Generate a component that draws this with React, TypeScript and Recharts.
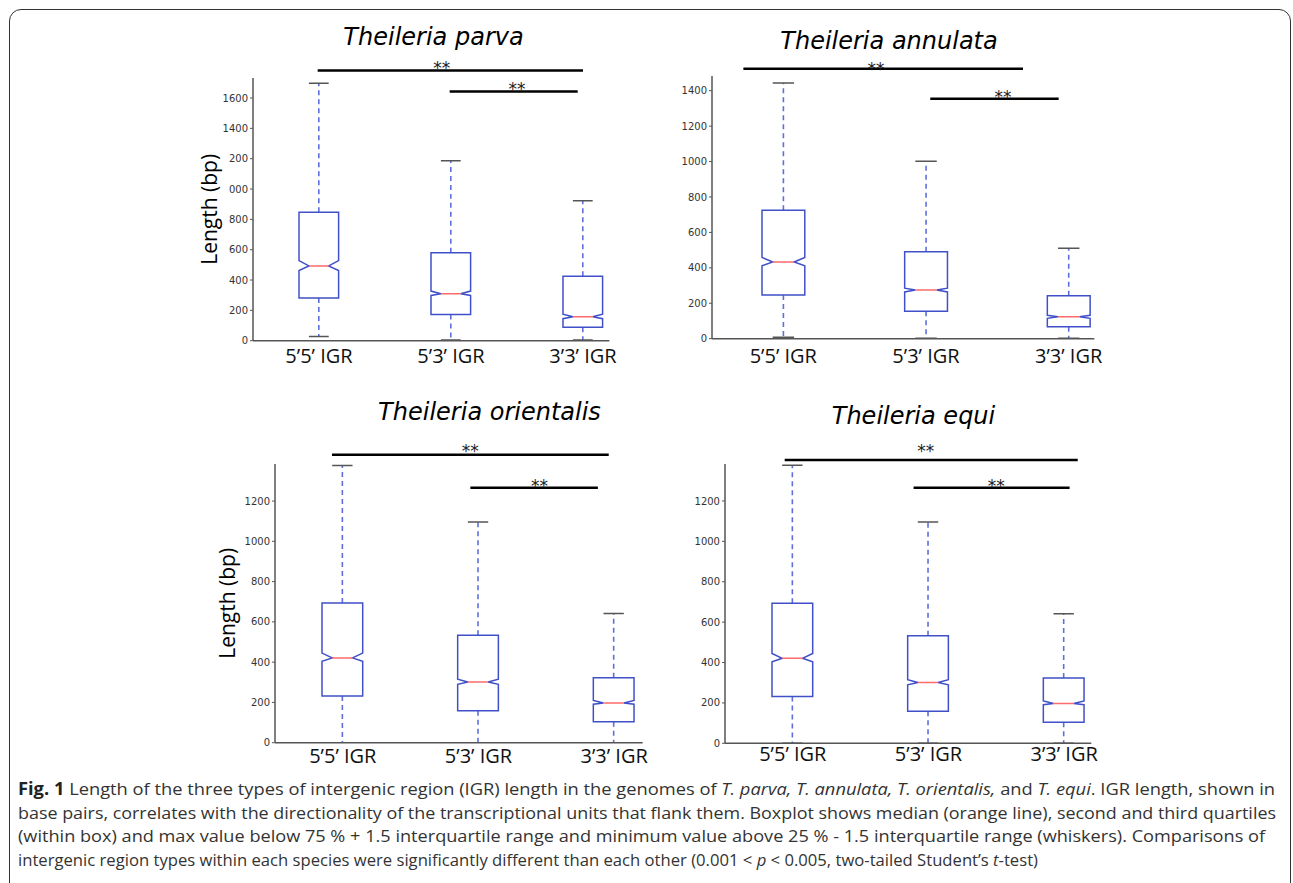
import React from 'react';
import { ComposedChart, Bar, XAxis, YAxis, ReferenceLine, ReferenceDot } from 'recharts';

const categories = ['5’5’ IGR', '5’3’ IGR', '3’3’ IGR'];
const positions = [1, 2, 3];

// Theileria parva
const parvaLow = [28, 5, 5];
const parvaQ1 = [281, 173, 88];
const parvaNotchLo = [463, 298, 145];
const parvaMedian = [493, 309, 158];
const parvaNotchHi = [528, 327, 175];
const parvaQ3 = [847, 579, 425];
const parvaHigh = [1698, 1186, 923];
const parvaTicks = [0, 200, 400, 600, 800, 1000, 1200, 1400, 1600];
const parvaTickLabels = ['0', '200', '400', '600', '800', '000', '200', '1400', '1600'];

// Theileria annulata
const annulataLow = [8, 2, 2];
const annulataQ1 = [247, 155, 68];
const annulataNotchLo = [412, 264, 115];
const annulataMedian = [433, 275, 124];
const annulataNotchHi = [459, 285, 132];
const annulataQ3 = [725, 491, 243];
const annulataHigh = [1444, 1002, 510];
const annulataTicks = [0, 200, 400, 600, 800, 1000, 1200, 1400];

// Theileria orientalis
const orientalisLow = [0, 0, 0];
const orientalisQ1 = [232, 159, 104];
const orientalisNotchLo = [404, 290, 191];
const orientalisMedian = [421, 301, 197];
const orientalisNotchHi = [445, 315, 210];
const orientalisQ3 = [694, 533, 323];
const orientalisHigh = [1377, 1096, 642];

// Theileria equi
const equiLow = [0, 0, 0];
const equiQ1 = [232, 159, 104];
const equiNotchLo = [404, 290, 191];
const equiMedian = [421, 301, 197];
const equiNotchHi = [445, 315, 210];
const equiQ3 = [694, 533, 323];
const equiHigh = [1377, 1096, 642];

const lowerTicks = [0, 200, 400, 600, 800, 1000, 1200];

// significance bars: x in category units (1..3), y in bp
const parvaSig = [
  { x1: 0.99, x2: 3.0, y: 1782, sx: 1.93, sy: 1824 },
  { x1: 1.99, x2: 2.96, y: 1643, sx: 2.5, sy: 1686 },
];
const annulataSig = [
  { x1: 0.72, x2: 2.68, y: 1524, sx: 1.65, sy: 1546 },
  { x1: 2.03, x2: 2.93, y: 1355, sx: 2.54, sy: 1389 },
];
const orientalisSig = [
  { x1: 0.92, x2: 2.96, y: 1430, sx: 1.94, sy: 1467 },
  { x1: 1.94, x2: 2.88, y: 1266, sx: 2.45, sy: 1294 },
];
const equiSig = [
  { x1: 0.94, x2: 3.1, y: 1403, sx: 1.98, sy: 1466 },
  { x1: 1.89, x2: 3.04, y: 1266, sx: 2.5, sy: 1294 },
];

const buildRows = (low: number[], q1: number[], nlo: number[], med: number[], nhi: number[], q3: number[], high: number[]) =>
  categories.map((name, i) => ({
    name,
    pos: positions[i],
    low: low[i],
    q1: q1[i],
    notchLo: nlo[i],
    median: med[i],
    notchHi: nhi[i],
    q3: q3[i],
    high: high[i],
  }));

const BOX = '#3f50c8';
const WHISKER = '#5d6fdc';
const CAP = '#555';
const MEDIAN = '#ff6b6b';

function NotchedBox(props: any) {
  const { x, y, width, height, payload } = props;
  if (!payload) return null;
  const { low, q1, notchLo, median, notchHi, q3, high } = payload;
  const top = Math.min(y, y + height);
  const k = Math.abs(height) / (q3 - q1);
  const py = (v: number) => top + (q3 - v) * k;
  const l = x;
  const r = x + width;
  const cx = x + width / 2;
  const ind = width / 4;
  const d = `M${l},${py(q3)} L${r},${py(q3)} L${r},${py(notchHi)} L${r - ind},${py(median)} L${r},${py(notchLo)} L${r},${py(q1)} L${l},${py(q1)} L${l},${py(notchLo)} L${l + ind},${py(median)} L${l},${py(notchHi)} Z`;
  const cap = width / 4;
  return (
    <g>
      <line x1={cx} x2={cx} y1={py(q3)} y2={py(high)} stroke={WHISKER} strokeWidth={1.6} strokeDasharray="5 4" />
      <line x1={cx} x2={cx} y1={py(q1)} y2={py(low)} stroke={WHISKER} strokeWidth={1.6} strokeDasharray="5 4" />
      <line x1={cx - cap} x2={cx + cap} y1={py(high)} y2={py(high)} stroke={CAP} strokeWidth={1.5} />
      <line x1={cx - cap} x2={cx + cap} y1={py(low)} y2={py(low)} stroke={CAP} strokeWidth={1.5} />
      <path d={d} fill="none" stroke={BOX} strokeWidth={1.5} />
      <line x1={l + ind} x2={r - ind} y1={py(median)} y2={py(median)} stroke={MEDIAN} strokeWidth={1.5} />
    </g>
  );
}

type PanelProps = {
  rows: any[];
  plotLeft: number;
  plotTop: number;
  plotW: number;
  plotH: number;
  yAxisW: number;
  yMax: number;
  ticks: number[];
  tickLabels?: string[];
  sig: { x1: number; x2: number; y: number; sx: number; sy: number }[];
  axisEnd: number;
  xTickMargin: number;
  yLabel?: boolean;
};

const MT = 30;
const XH = 40;

function BoxPanel(p: PanelProps) {
  const width = p.yAxisW + p.plotW + 10;
  const height = MT + p.plotH + XH;
  const boxW = (p.plotW / 3) * 0.3;
  return (
    <div style={{ position: 'absolute', left: p.plotLeft - p.yAxisW, top: p.plotTop - MT }}>
      <ComposedChart width={width} height={height} data={p.rows} margin={{ top: MT, right: 10, bottom: 0, left: 0 }}>
        <XAxis
          dataKey="pos"
          type="number"
          domain={[0.5, 3.5]}
          allowDataOverflow
          ticks={positions}
          interval={0}
          tickFormatter={(v: number) => categories[v - 1]}
          axisLine={false}
          tickLine={false}
          tickSize={0}
          tickMargin={p.xTickMargin}
          height={XH}
          tick={{ fontFamily: 'Open Sans', fontSize: 20, fill: '#111' }}
        />
        <YAxis
          type="number"
          domain={[0, p.yMax]}
          ticks={p.ticks}
          interval={0}
          allowDataOverflow
          width={p.yAxisW}
          tickSize={3}
          tickMargin={2}
          tickFormatter={(v: number, i: number) => (p.tickLabels ? p.tickLabels[i] : String(v))}
          tick={{ fontFamily: 'DejaVu Sans', fontSize: 10, fill: '#333' }}
          tickLine={{ stroke: '#555' }}
          axisLine={{ stroke: '#555', strokeWidth: 1.5 }}
          label={
            p.yLabel
              ? { value: 'Length (bp)', angle: -90, position: 'center', style: { fontFamily: 'Open Sans', fontSize: 21, fill: '#000', textAnchor: 'middle' } }
              : undefined
          }
        />
        <ReferenceLine
          segment={[{ x: 0.5, y: 0 }, { x: p.axisEnd, y: 0 }]}
          stroke="#555"
          strokeWidth={1.5}
          ifOverflow="visible"
        />
        <Bar dataKey={(d: any) => [d.q1, d.q3]} barSize={boxW} shape={NotchedBox} isAnimationActive={false} />
        {p.sig.map((s, i) => (
          <ReferenceLine
            key={'l' + i}
            segment={[{ x: s.x1, y: s.y }, { x: s.x2, y: s.y }]}
            stroke="#000"
            strokeWidth={2.5}
            ifOverflow="visible"
          />
        ))}
        {p.sig.map((s, i) => (
          <ReferenceDot
            key={'s' + i}
            x={s.sx}
            y={s.sy}
            r={1}
            ifOverflow="visible"
            shape={(sp: any) => (
              <text x={sp.cx} y={sp.cy + 10} textAnchor="middle" fontFamily="DejaVu Sans" fontSize={17} fill="#222">
                **
              </text>
            )}
          />
        ))}
      </ComposedChart>
    </div>
  );
}

const titleStyle = { fontFamily: 'DejaVu Sans', fontStyle: 'italic' as const, fontSize: 24, fill: '#000' };
const capStyle = { fontFamily: 'Open Sans', fontSize: 17, fill: '#333' };

export default function App() {
  return (
    <div style={{ position: 'absolute', left: 0, top: 0, width: 1293, height: 883, overflow: 'hidden', background: '#fff' }}>
      <div
        style={{
          position: 'absolute',
          left: 9,
          top: 9,
          width: 1280,
          height: 1000,
          border: '1.5px solid #333',
          borderRadius: 12,
        }}
      />
      <svg width={1293} height={883} style={{ position: 'absolute', left: 0, top: 0 }}>
        <text x={433.5} y={45} textAnchor="middle" style={titleStyle}>Theileria parva</text>
        <text x={889} y={49} textAnchor="middle" style={titleStyle}>Theileria annulata</text>
        <text x={489.5} y={420} textAnchor="middle" style={titleStyle}>Theileria orientalis</text>
        <text x={913.5} y={424} textAnchor="middle" style={titleStyle}>Theileria equi</text>

        <text x={18} y={795} textLength={1257} lengthAdjust="spacingAndGlyphs" style={capStyle}>
          <tspan fontWeight="bold" fill="#222">Fig. 1</tspan> Length of the three types of intergenic region (IGR) length in the genomes of{' '}
          <tspan fontStyle="italic">T. parva, T. annulata, T. orientalis,</tspan> and <tspan fontStyle="italic">T. equi</tspan>. IGR length, shown in
        </text>
        <text x={18} y={818.5} textLength={1258} lengthAdjust="spacingAndGlyphs" style={capStyle}>
          base pairs, correlates with the directionality of the transcriptional units that flank them. Boxplot shows median (orange line), second and third quartiles
        </text>
        <text x={18} y={842} textLength={1247} lengthAdjust="spacingAndGlyphs" style={capStyle}>
          (within box) and max value below 75 % + 1.5 interquartile range and minimum value above 25 % - 1.5 interquartile range (whiskers). Comparisons of
        </text>
        <text x={18} y={865.5} textLength={1020} lengthAdjust="spacingAndGlyphs" style={capStyle}>
          {'intergenic region types within each species were significantly different than each other (0.001 < '}
          <tspan fontStyle="italic">p</tspan>
          {' < 0.005, two-tailed Student’s '}
          <tspan fontStyle="italic">t</tspan>
          {'-test)'}
        </text>
      </svg>

      <BoxPanel
        rows={buildRows(parvaLow, parvaQ1, parvaNotchLo, parvaMedian, parvaNotchHi, parvaQ3, parvaHigh)}
        plotLeft={253}
        plotTop={78.3}
        plotW={396}
        plotH={262.7}
        yAxisW={86}
        yMax={1732}
        ticks={parvaTicks}
        tickLabels={parvaTickLabels}
        sig={parvaSig}
        axisEnd={3.2}
        xTickMargin={8}
        yLabel
      />
      <BoxPanel
        rows={buildRows(annulataLow, annulataQ1, annulataNotchLo, annulataMedian, annulataNotchHi, annulataQ3, annulataHigh)}
        plotLeft={712}
        plotTop={76}
        plotW={428}
        plotH={262.7}
        yAxisW={60}
        yMax={1483}
        ticks={annulataTicks}
        sig={annulataSig}
        axisEnd={3.18}
        xTickMargin={10}
      />
      <BoxPanel
        rows={buildRows(orientalisLow, orientalisQ1, orientalisNotchLo, orientalisMedian, orientalisNotchHi, orientalisQ3, orientalisHigh)}
        plotLeft={274.5}
        plotTop={464}
        plotW={407}
        plotH={278.7}
        yAxisW={95}
        yMax={1384}
        ticks={lowerTicks}
        sig={orientalisSig}
        axisEnd={3.21}
        xTickMargin={6}
        yLabel
      />
      <BoxPanel
        rows={buildRows(equiLow, equiQ1, equiNotchLo, equiMedian, equiNotchHi, equiQ3, equiHigh)}
        plotLeft={725.3}
        plotTop={464}
        plotW={407}
        plotH={279.3}
        yAxisW={60}
        yMax={1383}
        ticks={lowerTicks}
        sig={equiSig}
        axisEnd={3.2}
        xTickMargin={4}
      />
    </div>
  );
}
